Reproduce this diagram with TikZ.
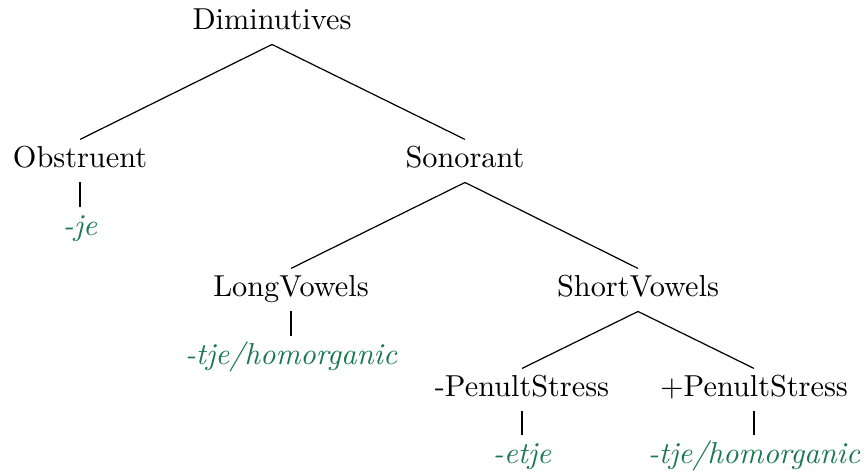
\documentclass[tikz,border=0pt]{standalone}
\usepackage{xcolor}
\definecolor{leafgreen}{RGB}{25,120,80}
\begin{document}
\begin{tikzpicture}[x=0.33pt,y=-0.33pt,
  tn/.style={anchor=base, inner sep=2.9pt, text height=6pt, text depth=2pt},
  leaf/.style={tn, text=leafgreen, font=\itshape},
  branch/.style={draw=black, line width=0.4pt}]
\useasboundingbox (0,0) rectangle (866,473);
\node[tn] (dim) at (272,29) {Diminutives};
\node[tn] (obs) at (80,167) {Obstruent};
\node[leaf] (je) at (80,235) {-je};
\node[tn] (son) at (465,167) {Sonorant};
\node[tn] (long) at (291,296) {LongVowels};
\node[leaf] (tjeA) at (291,364) {-tje/homorganic};
\node[tn] (short) at (638,296) {ShortVowels};
\node[tn] (minus) at (522,396) {-PenultStress};
\node[tn] (plus) at (754,396) {+PenultStress};
\node[leaf] (etje) at (522,463) {-etje};
\node[leaf] (tjeB) at (754,463) {-tje/homorganic};
\draw[branch] (dim.south) -- (obs.north);
\draw[branch] (dim.south) -- (son.north);
\draw[branch] (obs.south) -- (je.north);
\draw[branch] (son.south) -- (long.north);
\draw[branch] (son.south) -- (short.north);
\draw[branch] (long.south) -- (tjeA.north);
\draw[branch] (short.south) -- (minus.north);
\draw[branch] (short.south) -- (plus.north);
\draw[branch] (minus.south) -- (etje.north);
\draw[branch] (plus.south) -- (tjeB.north);
\end{tikzpicture}
\end{document}
